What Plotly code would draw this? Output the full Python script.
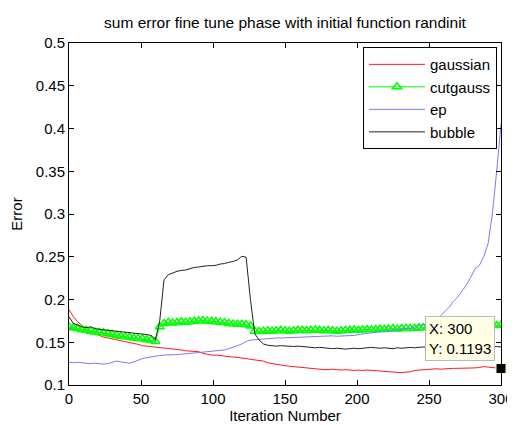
import plotly.graph_objects as go

iterations = list(range(0, 301, 3))

gaussian = [
    0.188, 0.180, 0.174, 0.169, 0.165, 0.162, 0.160, 0.158, 0.156, 0.155,
    0.154, 0.153, 0.152, 0.151, 0.150, 0.149, 0.1475, 0.146, 0.1455, 0.145,
    0.1445, 0.144, 0.1435, 0.143, 0.1425, 0.142, 0.141, 0.140, 0.1395, 0.139,
    0.139, 0.137, 0.136, 0.135, 0.135, 0.1345, 0.134, 0.1335, 0.133, 0.1325,
    0.132, 0.131, 0.130, 0.1295, 0.129, 0.128, 0.126, 0.125, 0.124, 0.123,
    0.1225, 0.122, 0.1215, 0.121, 0.120, 0.1195, 0.119, 0.119, 0.1185, 0.118,
    0.118, 0.1185, 0.118, 0.1175, 0.118, 0.1175, 0.117, 0.1175, 0.117, 0.1175,
    0.117, 0.1165, 0.116, 0.1155, 0.115, 0.115, 0.1148, 0.1145, 0.115, 0.1155,
    0.117, 0.1175, 0.118, 0.1185, 0.1185, 0.119, 0.1185, 0.119, 0.119, 0.1195,
    0.1195, 0.1195, 0.120, 0.1195, 0.120, 0.1205, 0.1215, 0.121, 0.1205, 0.1195,
    0.1193,
]

cutgauss = [
    0.168, 0.167, 0.166, 0.165, 0.164, 0.163, 0.162, 0.1615, 0.161, 0.160,
    0.159, 0.158, 0.157, 0.1565, 0.156, 0.155, 0.1545, 0.154, 0.153, 0.1525,
    0.151, 0.168, 0.172, 0.1735, 0.1725, 0.173, 0.174, 0.1735, 0.174, 0.1745,
    0.1752, 0.1755, 0.175, 0.1745, 0.174, 0.1735, 0.173, 0.172, 0.1715, 0.171,
    0.171, 0.1705, 0.169, 0.163, 0.1625, 0.163, 0.1635, 0.163, 0.1635, 0.164,
    0.1635, 0.163, 0.1635, 0.164, 0.164, 0.1635, 0.164, 0.1645, 0.164, 0.1635,
    0.164, 0.1635, 0.163, 0.1635, 0.164, 0.164, 0.1645, 0.164, 0.1645, 0.165,
    0.1645, 0.165, 0.1655, 0.165, 0.1655, 0.166, 0.1655, 0.166, 0.1665, 0.166,
    0.1665, 0.167, 0.167, 0.1675, 0.167, 0.1675, 0.168, 0.1675, 0.168, 0.1685,
    0.168, 0.1685, 0.169, 0.1685, 0.169, 0.1695, 0.169, 0.1695, 0.170, 0.1695,
    0.170,
]

ep = [
    0.1265, 0.126, 0.1265, 0.126, 0.1255, 0.125, 0.1255, 0.125, 0.1245, 0.125,
    0.1265, 0.128, 0.127, 0.1265, 0.1255, 0.127, 0.129, 0.131, 0.132, 0.133,
    0.134, 0.1345, 0.135, 0.135, 0.1355, 0.1355, 0.136, 0.1365, 0.137, 0.137,
    0.1375, 0.138, 0.1385, 0.139, 0.1395, 0.140, 0.141, 0.1425, 0.144, 0.146,
    0.148, 0.151, 0.1525, 0.153, 0.1535, 0.154, 0.154, 0.1545, 0.155, 0.155,
    0.1552, 0.1555, 0.1555, 0.1557, 0.156, 0.1562, 0.1565, 0.157, 0.157, 0.157,
    0.1572, 0.1575, 0.157, 0.157, 0.1575, 0.1578, 0.158, 0.159, 0.160, 0.1605,
    0.161, 0.1615, 0.162, 0.1625, 0.163, 0.1635, 0.164, 0.165, 0.166, 0.1665,
    0.168, 0.169, 0.1705, 0.172, 0.1745, 0.177, 0.181, 0.1855, 0.191, 0.198,
    0.203, 0.210, 0.217, 0.226, 0.236, 0.240, 0.250, 0.265, 0.300, 0.350,
    0.405,
]

bubble = [
    0.180, 0.172, 0.170, 0.168, 0.167, 0.168, 0.166, 0.165, 0.1645, 0.164,
    0.1635, 0.163, 0.1625, 0.162, 0.161, 0.1605, 0.160, 0.1595, 0.159, 0.158,
    0.153, 0.175, 0.223, 0.229, 0.231, 0.233, 0.234, 0.2345, 0.236, 0.2375,
    0.238, 0.239, 0.2395, 0.2395, 0.240, 0.2415, 0.242, 0.2435, 0.2445, 0.2465,
    0.2505, 0.2495, 0.200, 0.160, 0.1526, 0.148, 0.1465, 0.146, 0.1455, 0.146,
    0.1455, 0.1455, 0.145, 0.1455, 0.145, 0.1445, 0.1445, 0.1435, 0.144, 0.1435,
    0.143, 0.1425, 0.143, 0.1425, 0.142, 0.1425, 0.143, 0.1425, 0.143, 0.1435,
    0.144, 0.1435, 0.143, 0.1435, 0.143, 0.1425, 0.1435, 0.143, 0.1435, 0.144,
    0.1435, 0.144, 0.1445, 0.144, 0.1435, 0.144, 0.1445, 0.144, 0.1445, 0.144,
    0.1445, 0.144, 0.1445, 0.145, 0.1445, 0.144, 0.1445, 0.145, 0.1445, 0.145,
    0.1445,
]

x_ticks = [0, 50, 100, 150, 200, 250, 300]
y_ticks = [0.1, 0.15, 0.2, 0.25, 0.3, 0.35, 0.4, 0.45, 0.5]
y_tick_labels = ["0.1", "0.15", "0.2", "0.25", "0.3", "0.35", "0.4", "0.45", "0.5"]

FONT = "Liberation Sans, Arial, sans-serif"
FS = 15

# the page body adds an 8px offset, so the figure is sized to fill the rest of the window
W, H = 507, 417

fig = go.Figure()
fig.add_trace(go.Scatter(x=iterations, y=gaussian, mode="lines", name="gaussian",
                         line=dict(color="#ff1a1a", width=1)))
fig.add_trace(go.Scatter(x=iterations, y=cutgauss, mode="lines+markers", name="cutgauss",
                         line=dict(color="#00ff00", width=1),
                         marker=dict(symbol="triangle-up-open", size=8, color="#00ff00",
                                     line=dict(width=1.5, color="#00ff00"))))
fig.add_trace(go.Scatter(x=iterations, y=ep, mode="lines", name="ep",
                         line=dict(color="#7a7aff", width=1)))
fig.add_trace(go.Scatter(x=iterations, y=bubble, mode="lines", name="bubble",
                         line=dict(color="#222222", width=1)))
# data cursor marker
fig.add_trace(go.Scatter(x=[iterations[-1]], y=[gaussian[-1]], mode="markers",
                         showlegend=False, cliponaxis=False,
                         marker=dict(symbol="square", size=10, color="#000000",
                                     line=dict(width=1, color="#ffffd0"))))

fig.add_annotation(x=247.5, y=0.1806, xref="x", yref="y", xanchor="left", yanchor="top",
                   text="X: 300<br>Y: 0.1193", showarrow=False, align="left",
                   font=dict(family=FONT, size=FS, color="#000000"),
                   bgcolor="#ffffe6", bordercolor="#b8b8b8", borderwidth=1, borderpad=3)

fig.update_layout(
    width=W, height=H,
    margin=dict(l=61, r=14, t=35, b=40, autoexpand=False),
    paper_bgcolor="white", plot_bgcolor="white",
    font=dict(family=FONT, size=FS, color="#000000"),
    title=dict(text="sum error fine tune phase with initial function randinit",
               x=0.5, xref="paper", xanchor="center", y=1 - 15 / H, yref="container",
               yanchor="middle",
               font=dict(family=FONT, size=15.5, color="#000000")),
    showlegend=True,
    legend=dict(x=0.9907, y=0.988, xanchor="right", yanchor="top",
                bgcolor="white", bordercolor="#000000", borderwidth=1,
                font=dict(family=FONT, size=FS), itemwidth=56, tracegroupgap=0),
    xaxis=dict(range=[0, 300], tickvals=x_ticks, ticks="inside", ticklen=5,
               showline=True, linecolor="#000000", linewidth=1, mirror="ticks",
               showgrid=False, zeroline=False, tickcolor="#000000", automargin=False,
               tickfont=dict(family=FONT, size=FS),
               title=dict(text="Iteration Number", standoff=2,
                          font=dict(family=FONT, size=FS))),
    yaxis=dict(range=[0.1, 0.5], tickvals=y_ticks, ticktext=y_tick_labels,
               ticks="inside", ticklen=5,
               showline=True, linecolor="#000000", linewidth=1, mirror="ticks",
               showgrid=False, zeroline=False, tickcolor="#000000", automargin=False,
               tickfont=dict(family=FONT, size=FS),
               title=dict(text="Error", standoff=14,
                          font=dict(family=FONT, size=FS))),
)

fig.write_html("out.html")
